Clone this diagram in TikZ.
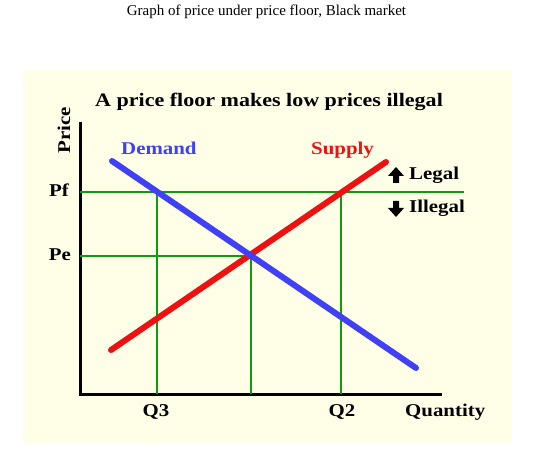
\documentclass[tikz,border=0pt]{standalone}
\usepackage{fontspec}
\setmainfont{Liberation Serif}
\newfontfamily\lblfont{Liberation Serif}[FakeStretch=1.16]
\definecolor{bgcream}{HTML}{FFFFE8}
\definecolor{dblue}{HTML}{4040F8}
\definecolor{sred}{HTML}{EE1111}
\definecolor{lgreen}{HTML}{119911}
\tikzset{
  lbl/.style={font=\lblfont\bfseries\fontsize{18}{18}\selectfont, inner sep=0pt},
  curve/.style={line width=6pt, line cap=round},
  guide/.style={lgreen, line width=2pt},
  axis/.style={black, line width=3pt},
  arrowglyph/.style={fill=black, draw=none}
}
\begin{document}
\begin{tikzpicture}[x=1pt,y=-1pt]
\useasboundingbox (0,0) rectangle (549,449);
\fill[bgcream] (23,70) rectangle (512,443);
\node[inner sep=0pt, font=\fontsize{15}{15}\selectfont] (title) at (266.5,12) {Graph of price under price floor, Black market};
\node[lbl, font=\lblfont\bfseries\fontsize{19}{19}\selectfont, anchor=west] (head) at (95,102) {A price floor makes low prices illegal};
% axes
\coordinate (O) at (80,394);
\coordinate (ytop) at (80,122);
\coordinate (xend) at (442,394);
\draw[axis] (ytop) -- (O) -- (xend);
% guide lines
\coordinate (pfl) at (80,192);
\coordinate (pfr) at (464,192);
\coordinate (pel) at (80,256);
\coordinate (eq) at (251,256);
\coordinate (q3t) at (157,192);
\coordinate (q3b) at (157,394);
\coordinate (eqb) at (251,394);
\coordinate (q2t) at (341,192);
\coordinate (q2b) at (341,394);
\draw[guide] (pfl) -- (pfr);
\draw[guide] (pel) -- (eq);
\draw[guide] (q3t) -- (q3b);
\draw[guide] (eq) -- (eqb);
\draw[guide] (q2t) -- (q2b);
% curves
\coordinate (s1) at (111,350);
\coordinate (s2) at (386,162);
\coordinate (d1) at (112,161);
\coordinate (d2) at (416,368);
\draw[curve, sred] (s1) -- (s2);
\draw[curve, dblue] (d1) -- (d2);
% labels
\node[lbl, rotate=90] (price) at (64,130) {Price};
\node[lbl] (pf) at (59,190) {Pf};
\node[lbl] (pe) at (60,255) {Pe};
\node[lbl, dblue, anchor=west] (demand) at (121,148) {Demand};
\node[lbl, sred, anchor=west] (supply) at (311,150) {Supply};
\node[lbl, anchor=west] (legal) at (409,175) {Legal};
\node[lbl, anchor=west] (illegal) at (409,208) {Illegal};
\node[lbl] (q3) at (156,412) {Q3};
\node[lbl] (q2) at (342,412) {Q2};
\node[lbl, anchor=west] (qty) at (405,412) {Quantity};
% arrow glyphs
\fill[arrowglyph] (396,167) -- (404,176) -- (399,176) -- (399,183) -- (393,183) -- (393,176) -- (388,176) -- cycle;
\fill[arrowglyph] (396,217) -- (404,208) -- (399,208) -- (399,201) -- (393,201) -- (393,208) -- (388,208) -- cycle;
\end{tikzpicture}
\end{document}
